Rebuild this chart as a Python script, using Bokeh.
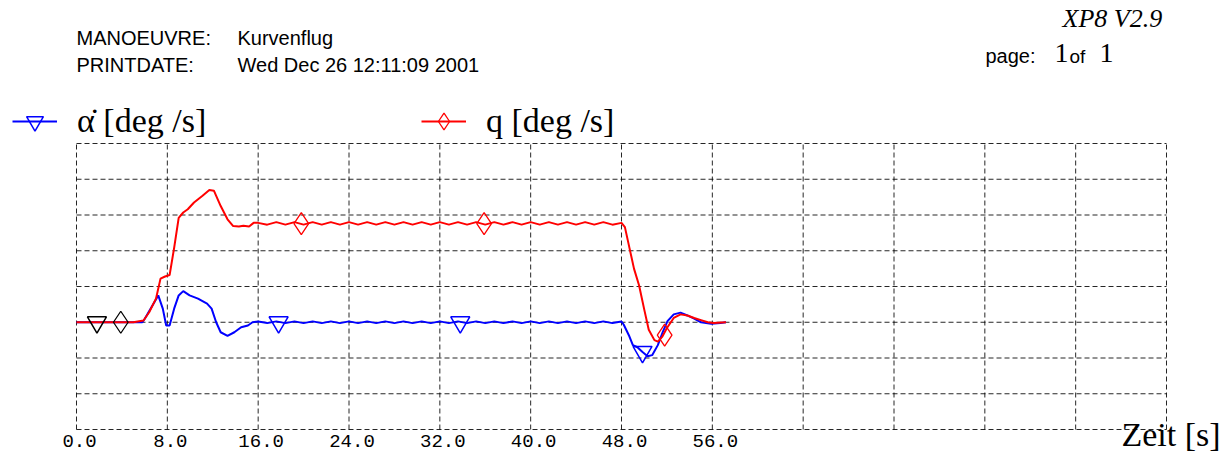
from bokeh.plotting import figure
from bokeh.models import Range1d, Label, Legend, LegendItem
from bokeh.core.properties import value
from bokeh.embed import file_html
from bokeh.resources import INLINE

# ---------------- data ----------------
t_alpha = [0.0, 3.0, 5.8, 6.0, 6.6, 7.2, 7.6, 7.9, 8.2, 8.6, 9.0, 9.4, 9.96, 10.7, 11.5, 11.9,
           12.3, 12.7, 13.3, 13.9, 14.5, 15.1, 15.5,
           16.0, 16.8, 17.6, 18.4, 19.2, 20.0, 20.8, 21.6, 22.4, 23.2, 24.0, 24.8, 25.6, 26.4,
           27.2, 28.0, 28.8, 29.6, 30.4, 31.2, 32.0, 32.8, 33.6, 34.4, 35.2, 36.0, 36.8, 37.6,
           38.4, 39.2, 40.0, 40.8, 41.6, 42.4, 43.2, 44.0, 44.8, 45.6, 46.4, 47.2, 48.0,
           48.2, 48.7, 49.0, 49.4, 49.85, 50.3, 50.7, 51.2, 51.6, 52.05, 52.6, 53.2, 53.8,
           54.4, 55.0, 55.9, 56.7, 57.2]
alpha_dot = [0.0, 0.0, 0.0, 0.45, 2.1, 3.75, 1.9, -0.45, -0.45, 1.9, 3.75, 4.35, 3.75, 3.3, 2.6, 1.9,
             0.0, -1.4, -1.9, -1.4, -0.7, -0.45, 0.0,
             0.1, -0.12, 0.12, -0.12, 0.12, -0.12, 0.12, -0.12, 0.12, -0.12, 0.12, -0.12, 0.12, -0.12,
             0.12, -0.12, 0.12, -0.12, 0.12, -0.12, 0.12, -0.12, 0.12, -0.12, 0.12, -0.12, 0.12, -0.12,
             0.12, -0.12, 0.12, -0.12, 0.12, -0.12, 0.12, -0.12, 0.12, -0.12, 0.12, -0.12, 0.1,
             -0.35, -2.0, -3.2, -3.5, -4.15, -4.75, -4.6, -3.2, -1.5, 0.15, 1.1, 1.35, 0.95,
             0.5, 0.0, -0.2, -0.1, 0.0]

t_q = [0.0, 5.0, 5.9, 6.4, 7.0, 7.4, 7.8, 8.2, 8.6, 9.0, 9.4, 9.8, 10.35, 11.1, 11.7, 12.1,
       12.7, 13.3, 13.8, 14.3, 14.7, 15.2, 15.6,
       16.0, 16.8, 17.6, 18.4, 19.2, 20.0, 20.8, 21.6, 22.4, 23.2, 24.0, 24.8, 25.6, 26.4,
       27.2, 28.0, 28.8, 29.6, 30.4, 31.2, 32.0, 32.8, 33.6, 34.4, 35.2, 36.0, 36.8, 37.6,
       38.4, 39.2, 40.0, 40.8, 41.6, 42.4, 43.2, 44.0, 44.8, 45.6, 46.4, 47.2, 48.0,
       48.3, 48.7, 49.1, 49.55, 50.0, 50.4, 50.9, 51.2, 51.6, 52.0, 52.6, 53.2, 53.8,
       54.4, 55.0, 55.6, 56.1, 57.2]
q = [0.0, 0.0, 0.25, 1.4, 3.3, 6.1, 6.4, 6.6, 10.4, 14.6, 15.35, 15.8, 16.75, 17.7, 18.5, 18.4,
     16.25, 14.4, 13.45, 13.4, 13.5, 13.4, 13.9,
     13.9, 13.65, 14.0, 13.65, 14.0, 13.65, 14.0, 13.65, 14.0, 13.65, 14.0, 13.65, 14.0, 13.65,
     14.0, 13.65, 14.0, 13.65, 14.0, 13.65, 14.0, 13.65, 14.0, 13.65, 14.0, 13.65, 14.0, 13.65,
     14.0, 13.65, 14.0, 13.65, 14.0, 13.65, 14.0, 13.65, 14.0, 13.65, 14.0, 13.65, 13.9,
     13.3, 10.4, 7.5, 5.15, 1.8, -1.05, -2.5, -2.7, -2.0, -0.8, 0.6, 1.1, 0.95,
     0.6, 0.3, 0.0, -0.1, 0.0]

alpha_marker_t = [17.8, 33.8, 49.85]
alpha_marker_v = [0.0, 0.0, -4.15]
q_marker_t = [19.8, 35.9, 51.8]
q_marker_v = [13.8, 13.8, -1.8]
start_alpha_t = [1.8]
start_alpha_v = [0.0]
start_q_t = [3.9]
start_q_v = [0.0]

x_ticks = [0, 8, 16, 24, 32, 40, 48, 56, 64, 72, 80, 88, 96]
x_label_ticks = [0, 8, 16, 24, 32, 40, 48, 56]
x_tick_labels = ["0.0", "8.0", "16.0", "24.0", "32.0", "40.0", "48.0", "56.0"]
y_ticks = [-15, -10, -5, 0, 5, 10, 15, 20, 25]
X_MIN, X_MAX = 0, 96
Y_MIN, Y_MAX = -15, 25

# ---------------- figure ----------------
W, H = 1229, 455
PX_PER_X = 1090 / 96.0
PX_PER_Y = 286 / 40.0
p = figure(width=W, height=H, output_backend="svg", toolbar_location=None,
           x_range=Range1d(X_MIN - 76 / PX_PER_X, X_MAX + 63 / PX_PER_X),
           y_range=Range1d(Y_MIN - 26 / PX_PER_Y, Y_MAX + 143 / PX_PER_Y),
           min_border=0)
p.outline_line_color = None
p.axis.visible = False
p.grid.visible = False
p.background_fill_color = "white"
p.border_fill_color = "white"

# dashed grid (including the frame edges)
p.segment(x0=x_ticks, x1=x_ticks, y0=[Y_MIN] * len(x_ticks), y1=[Y_MAX] * len(x_ticks),
          line_color="black", line_dash="5 3", line_width=1, line_alpha=0.85)
p.segment(x0=[X_MIN] * len(y_ticks), x1=[X_MAX] * len(y_ticks), y0=y_ticks, y1=y_ticks,
          line_color="black", line_dash="5 3", line_width=1, line_alpha=0.85)

# tick labels
p.text(x=x_label_ticks, y=[Y_MIN] * len(x_label_ticks), text=x_tick_labels,
       text_font=value("Liberation Mono"), text_font_size="19px", text_color="black",
       text_align="center", text_baseline="middle", x_offset=3, y_offset=11)

la = p.line(t_alpha, alpha_dot, line_color="#0000ff", line_width=2)
lq = p.line(t_q, q, line_color="#ff0000", line_width=2)
ma = p.scatter(alpha_marker_t, alpha_marker_v, marker="inverted_triangle", size=19,
               fill_color=None, line_color="#0000ff", line_width=1.5)
mq = p.scatter(q_marker_t, q_marker_v, marker="diamond", size=22,
               fill_color=None, line_color="#ff0000", line_width=1.3)
p.scatter(start_alpha_t, start_alpha_v, marker="inverted_triangle", size=19,
          fill_color=None, line_color="black", line_width=1.5)
p.scatter(start_q_t, start_q_v, marker="diamond", size=22,
          fill_color=None, line_color="black", line_width=1.3)

# legends (location = bottom-left, screen px from canvas bottom-left)
def make_legend(label, rends, x, y_bottom):
    lg = Legend(items=[LegendItem(label=label, renderers=rends)], location=(x, H - y_bottom),
                orientation="horizontal", glyph_width=45, glyph_height=42, label_standoff=20,
                padding=0, margin=0, border_line_color=None, background_fill_alpha=0,
                label_text_font="Liberation Serif", label_text_font_size="34px",
                label_text_color="black", label_height=30)
    p.add_layout(lg)

make_legend("\u03b1\u0307 [deg /s]", [la, ma], 12, 142)
make_legend("q [deg /s]", [lq, mq], 421, 142)

def lab(txt, x, y_base, font="Liberation Sans", size=20, style="normal"):
    # y_base: wanted baseline measured from the top of the page
    y = y_base - 0.37 * size
    p.add_layout(Label(x=x, y=H - y, x_units="screen", y_units="screen", text=txt,
                       text_font=font, text_font_size=f"{size}px", text_font_style=style,
                       text_color="black", text_baseline="alphabetic", text_align="left"))

lab("MANOEUVRE:", 76, 44.5)
lab("Kurvenflug", 237, 44.5)
lab("PRINTDATE:", 76, 71.5)
lab("Wed Dec 26 12:11:09 2001", 237, 71.5)
lab("XP8 V2.9", 1062, 27.3, font="Liberation Serif", size=26, style="italic")
lab("page:", 985, 62.7)
lab("1", 1054, 62.7, font="Liberation Serif", size=28)
lab("of", 1069, 62.7, size=19)
lab("1", 1099, 62.7, font="Liberation Serif", size=28)
lab("Zeit [s]", 1121, 447, font="Liberation Serif", size=34)

open("out.html", "w").write(file_html(p, INLINE))
